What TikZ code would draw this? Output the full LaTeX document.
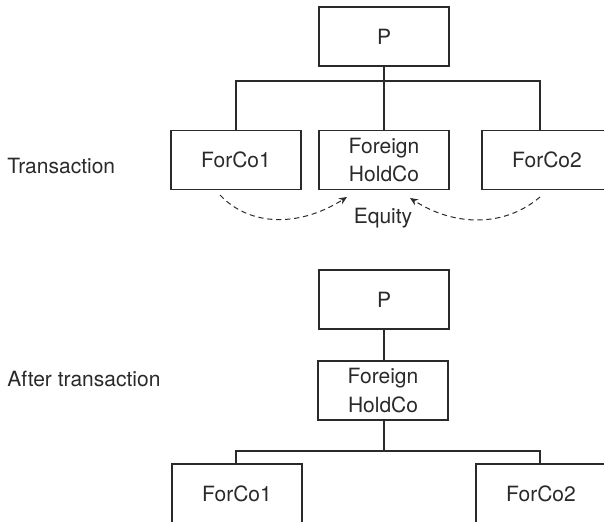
\documentclass[tikz,border=0pt]{standalone}
\usepackage{fontspec}
\setmainfont{TeX Gyre Heros}
\usetikzlibrary{arrows.meta}
\definecolor{ink}{HTML}{2A2A2A}
\tikzset{
  entity/.style={draw=ink, line width=0.6pt, fill=white, inner sep=0pt,
    minimum width=65pt, minimum height=29.5pt, align=center,
    text=ink, font=\fontsize{10.5}{14.3}\selectfont},
  link/.style={draw=ink, line width=0.6pt},
  flow/.style={draw=ink, line width=0.5pt, dash pattern=on 2.6pt off 1.9pt,
    -{Stealth[length=4pt,width=3.4pt]}},
  caption/.style={text=ink, font=\fontsize{10.5}{12.6}\selectfont, inner sep=0pt}
}
\begin{document}
\begin{tikzpicture}[x=0.5pt,y=-0.5pt]
\useasboundingbox (0,0) rectangle (604,523);
% the lowest boxes run past the lower edge
\clip (0,0) rectangle (604,521.5);

% ---- transaction ----
\node[caption, anchor=west] (lblT) at (7,166) {Transaction};
\node[entity] (P1) at (384,36.5) {P};
\node[entity] (H1) at (384,160) {Foreign\\HoldCo};
\node[entity] (A1) at (236,160) {ForCo1};
\node[entity] (B1) at (547,160) {ForCo2};

\coordinate (bus1) at (384,81);
\draw[link] (P1.south) -- (H1.north);
\draw[link] (A1.north -| 236,0) |- (bus1) -| (B1.north -| 540,0);

\coordinate (fromA) at (220,195);
\coordinate (toHa) at (347,197);
\coordinate (fromB) at (540,197);
\coordinate (toHb) at (410,198);
\draw[flow] (fromA) .. controls (250,227) and (300,227) .. (toHa);
\draw[flow] (fromB) .. controls (505,227) and (455,227) .. (toHb);
\node[caption] (eq) at (383,218) {Equity};

% ---- after transaction ----
\node[caption, anchor=west] (lblA) at (7,379) {After transaction};
\node[entity] (P2) at (384,299.5) {P};
\node[entity] (H2) at (383,390.5) {Foreign\\HoldCo};
\node[entity] (A2) at (237,493.5) {ForCo1};
\node[entity] (B2) at (541,493.5) {ForCo2};

\coordinate (bus2) at (384,451);
\draw[link] (P2.south) -- (P2.south |- H2.north);
\draw[link] (H2.south -| bus2) -- (bus2);
\draw[link] (A2.north -| 236,0) |- (bus2) -| (B2.north -| 540,0);
\end{tikzpicture}
\end{document}
